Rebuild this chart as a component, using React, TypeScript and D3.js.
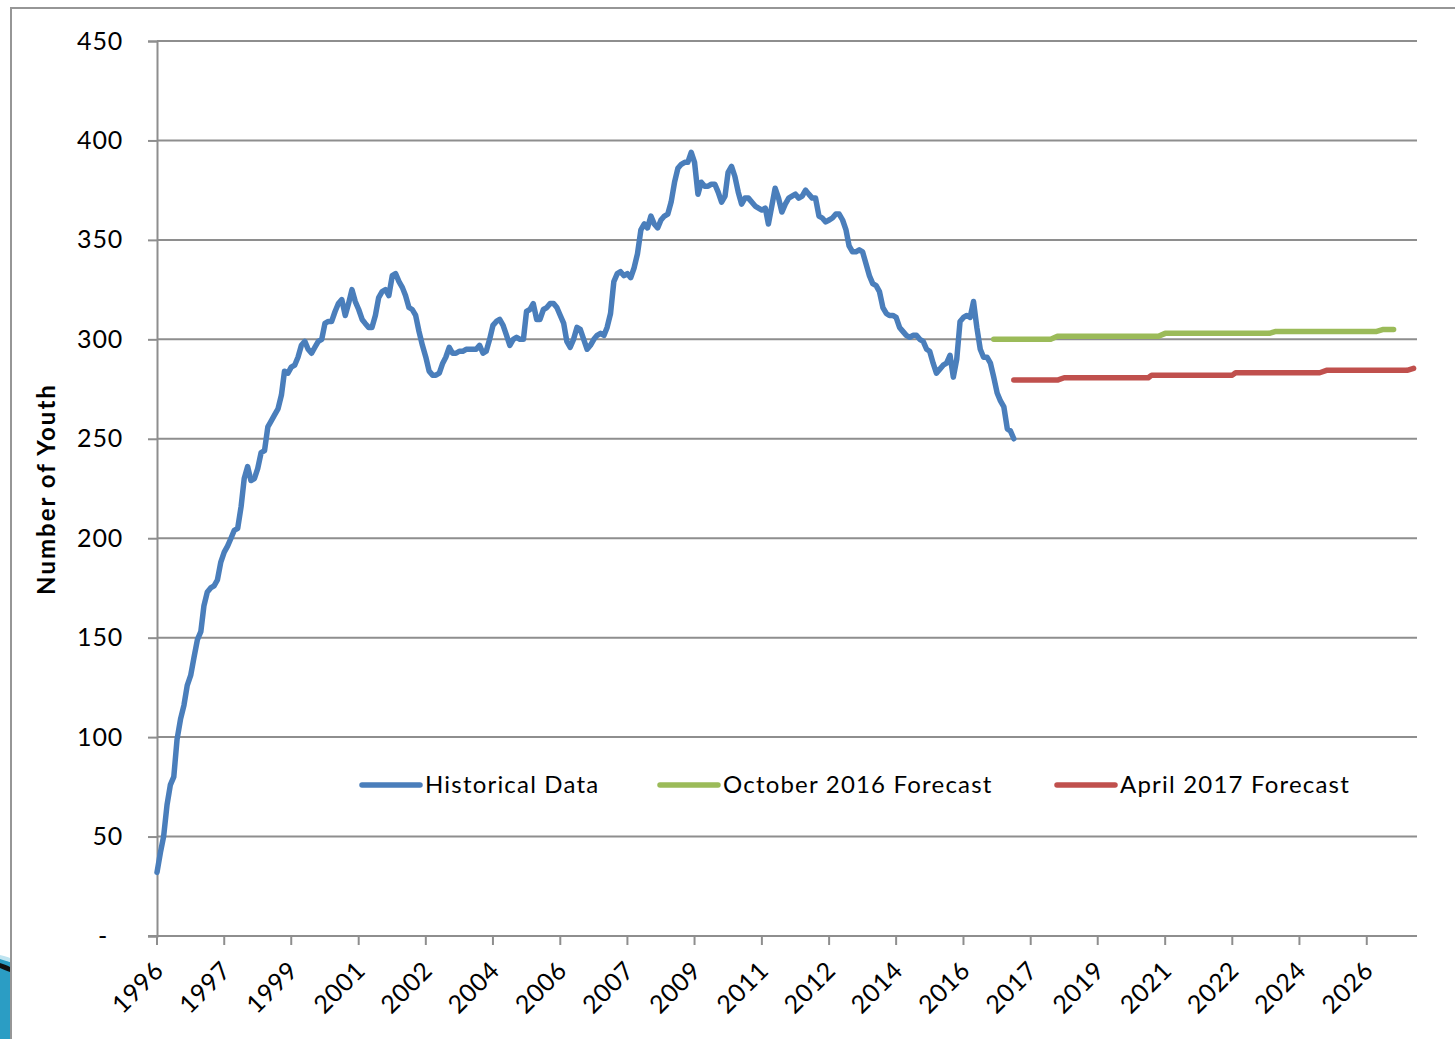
import { useEffect, useRef } from 'react';
import * as d3 from 'd3';

// monthly counts, first value is Jan 1996
const historyStart = '1996-01';
const historicalValues = [
  32, 42, 50, 66, 76, 80, 99, 109, 116, 126,
  131, 140, 149, 153, 166, 173, 175, 176, 179, 188,
  193, 196, 200, 204, 205, 216, 230, 236, 229, 230,
  235, 243, 244, 256, 259, 262, 265, 272, 284, 283,
  286, 287, 291, 297, 299, 295, 293, 296, 299, 300,
  308, 309, 309, 314, 318, 320, 312, 318, 325, 319,
  315, 310, 308, 306, 306, 312, 321, 324, 325, 322,
  332, 333, 329, 326, 322, 316, 315, 312, 304, 297,
  291, 284, 282, 282, 283, 288, 291, 296, 293, 293,
  294, 294, 295, 295, 295, 295, 297, 293, 294, 300,
  307, 309, 310, 307, 302, 297, 300, 301, 300, 300,
  314, 315, 318, 310, 310, 315, 316, 318, 318, 316,
  312, 308, 299, 296, 300, 306, 305, 300, 295, 297,
  300, 302, 303, 302, 306, 313, 329, 333, 334, 332,
  333, 331, 336, 343, 355, 358, 356, 362, 358, 356,
  360, 362, 363, 369, 379, 386, 388, 389, 389, 394,
  389, 373, 379, 377, 377, 378, 378, 374, 369, 372,
  384, 387, 382, 374, 368, 371, 371, 369, 367, 366,
  365, 366, 358, 367, 376, 371, 364, 368, 371, 372,
  373, 371, 372, 375, 373, 371, 371, 362, 361, 359,
  360, 361, 363, 363, 360, 355, 347, 344, 344, 345,
  344, 338, 332, 328, 327, 324, 316, 313, 312, 312,
  311, 306, 304, 302, 301, 302, 302, 300, 299, 295,
  294, 288, 283, 285, 287, 288, 292, 281, 290, 309,
  311, 312, 311, 319, 306, 295, 291, 291, 288, 281,
  273, 269, 266, 255, 254, 250
];

const octoberDates = ['2016-10', '2018-03', '2018-05', '2020-11', '2021-01', '2023-08', '2023-10', '2026-04', '2026-06', '2026-09'];
const octoberValues = [300, 300, 301.5, 301.5, 303, 303, 304, 304, 305, 305];

const aprilDates = ['2017-04', '2018-05', '2018-07', '2020-08', '2020-09', '2022-09', '2022-10', '2024-11', '2025-01', '2027-01', '2027-03'];
const aprilValues = [279.5, 279.5, 280.7, 280.7, 282, 282, 283.2, 283.2, 284.4, 284.4, 285.4];

const yTicks = [0, 50, 100, 150, 200, 250, 300, 350, 400, 450];
const xTickLabels = ['1996', '1997', '1999', '2001', '2002', '2004', '2006', '2007', '2009', '2011',
  '2012', '2014', '2016', '2017', '2019', '2021', '2022', '2024', '2026'];

const seriesNames = ['Historical Data', 'October 2016 Forecast', 'April 2017 Forecast'];
const seriesColors = ['#4a7ebb', '#9bbb59', '#c0504d'];

const parseMonth = d3.timeParse('%Y-%m');

const App = () => {
  const d3Container = useRef(null);

  useEffect(() => {
    if (!d3Container.current) return;
    const width = 1455, height = 1039;
    const font = 'Lato, Calibri, sans-serif';

    d3.select(d3Container.current).selectAll('svg').remove();
    const svg = d3.select(d3Container.current)
      .append('svg')
        .attr('width', width)
        .attr('height', height)
        .style('position', 'absolute')
        .style('left', 0)
        .style('top', 0)
        .style('background', '#fff');

    // slide frame and the corner of a picture peeking in
    svg.append('path')
      .attr('d', 'M0,958 C4,959 8,961 10,962 L10,1039 L0,1039 Z')
      .attr('fill', '#2b9dc4');
    svg.append('path')
      .attr('d', 'M0,955 C4,956 8,957 10,958 L10,962 C6,961 3,960 0,959 Z')
      .attr('fill', '#bfe4f0');
    svg.append('path')
      .attr('d', 'M0,963 C4,964 8,966 10,967 L10,972 C6,971 3,969 0,968 Z')
      .attr('fill', '#111');
    svg.append('path')
      .attr('d', 'M11,1039 L11,8 L1455,8')
      .attr('fill', 'none')
      .attr('stroke', '#969696')
      .attr('stroke-width', 2);

    const start = parseMonth(historyStart);
    const x = d3.scaleTime()
      .domain([start, d3.timeMonth.offset(start, 375)])
      .range([157, 1417]);
    const y = d3.scaleLinear()
      .domain([0, 450])
      .range([936, 41]);

    const gridColor = '#8e8e8e';

    // horizontal gridlines
    svg.append('g')
      .selectAll('line')
      .data(yTicks.filter(d => d > 0))
      .join('line')
        .attr('x1', 157)
        .attr('x2', 1417)
        .attr('y1', d => y(d))
        .attr('y2', d => y(d))
        .attr('stroke', gridColor)
        .attr('stroke-width', 2);

    // y axis
    const yAxis = svg.append('g')
      .attr('transform', 'translate(157,0)')
      .call(d3.axisLeft(y)
        .tickValues(yTicks)
        .tickSize(9)
        .tickPadding(25)
        .tickFormat(d => (d === 0 ? '-' : String(d))));
    yAxis.select('.domain').attr('stroke', gridColor).attr('stroke-width', 2);
    yAxis.selectAll('.tick line').attr('stroke', gridColor).attr('stroke-width', 2);
    yAxis.selectAll('.tick text')
      .attr('font-family', font)
      .attr('font-size', 25)
      .attr('letter-spacing', 0.8)
      .attr('fill', '#000')
      .attr('dx', d => (d === 0 ? -15 : 0));

    // x axis
    const xTicks = xTickLabels.map((_, i) => d3.timeMonth.offset(start, i * 20));
    svg.append('line')
      .attr('x1', 148).attr('x2', 1417)
      .attr('y1', 936).attr('y2', 936)
      .attr('stroke', gridColor).attr('stroke-width', 2);
    const xg = svg.append('g');
    xg.selectAll('line')
      .data(xTicks)
      .join('line')
        .attr('x1', d => x(d)).attr('x2', d => x(d))
        .attr('y1', 936).attr('y2', 945)
        .attr('stroke', gridColor).attr('stroke-width', 2);
    xg.selectAll('text')
      .data(xTicks)
      .join('text')
        .attr('transform', d => `translate(${x(d) + 2},${966}) rotate(-45)`)
        .attr('text-anchor', 'end')
        .attr('dy', '0.35em')
        .attr('font-family', font)
        .attr('font-size', 25)
        .attr('letter-spacing', 0.6)
        .attr('fill', '#000')
        .text((d, i) => xTickLabels[i]);

    // axis title
    svg.append('text')
      .attr('transform', 'translate(55,489) rotate(-90)')
      .attr('text-anchor', 'middle')
      .attr('font-family', font)
      .attr('font-weight', 'bold')
      .attr('font-size', 24)
      .attr('letter-spacing', 2)
      .attr('fill', '#000')
      .text('Number of Youth');

    const line = d3.line()
      .x(d => x(d.date))
      .y(d => y(d.value));

    const historical = historicalValues.map((v, i) => ({ date: d3.timeMonth.offset(start, i), value: v }));
    const october = octoberDates.map((d, i) => ({ date: parseMonth(d), value: octoberValues[i] }));
    const april = aprilDates.map((d, i) => ({ date: parseMonth(d), value: aprilValues[i] }));

    [historical, october, april].forEach((data, i) => {
      svg.append('path')
        .datum(data)
        .attr('fill', 'none')
        .attr('stroke', seriesColors[i])
        .attr('stroke-width', 5.5)
        .attr('stroke-linejoin', 'round')
        .attr('stroke-linecap', 'round')
        .attr('d', line);
    });

    // legend
    const legendX = [362, 660, 1057];
    const legend = svg.append('g');
    seriesNames.forEach((name, i) => {
      legend.append('line')
        .attr('x1', legendX[i]).attr('x2', legendX[i] + 58)
        .attr('y1', 785).attr('y2', 785)
        .attr('stroke', seriesColors[i])
        .attr('stroke-width', 5.5)
        .attr('stroke-linecap', 'round');
      legend.append('text')
        .attr('x', legendX[i] + 63)
        .attr('y', 793)
        .attr('font-family', font)
        .attr('font-size', 24)
        .attr('letter-spacing', 1.2)
        .attr('fill', '#000')
        .text(name);
    });
  }, []);

  return (
    <div ref={d3Container} />
  );
};

export default App;
